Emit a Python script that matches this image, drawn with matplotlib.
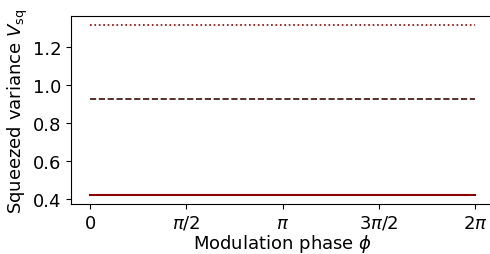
import numpy as np
import matplotlib
matplotlib.use("Agg")
import matplotlib.pyplot as plt

# modulation phase samples and the three (flat) variance levels
phi = np.linspace(0, 2 * np.pi, 50)
v_low = 0.42
v_mid = 0.926
v_high = 1.317
xticks = [0, np.pi / 2, np.pi, 3 * np.pi / 2, 2 * np.pi]
xticklabels = ["0", r"$\pi/2$", r"$\pi$", r"$3\pi/2$", r"$2\pi$"]

plt.rcParams["font.size"] = 13
fig = plt.figure(figsize=(4.9, 2.55), dpi=100)
ax = fig.add_axes([71 / 490, 50 / 255, 423 / 490, 188 / 255])

ax.plot(phi, np.full_like(phi, v_low), color="darkred", lw=1.5, ls="-")
ax.plot(phi, np.full_like(phi, v_mid), color="#3a0a0a", lw=1.2, ls="--")
ax.plot(phi, np.full_like(phi, v_high), color="darkred", lw=1.2, ls=":")

ax.set_xticks(xticks)
ax.set_xticklabels(xticklabels)
ax.set_yticks([0.4, 0.6, 0.8, 1.0, 1.2])
ax.set_xlabel(r"Modulation phase $\phi$", labelpad=0.5)
ax.set_ylabel(r"Squeezed variance $V_{\rm sq}$", labelpad=2)

fig.savefig("out.png", dpi=100)
